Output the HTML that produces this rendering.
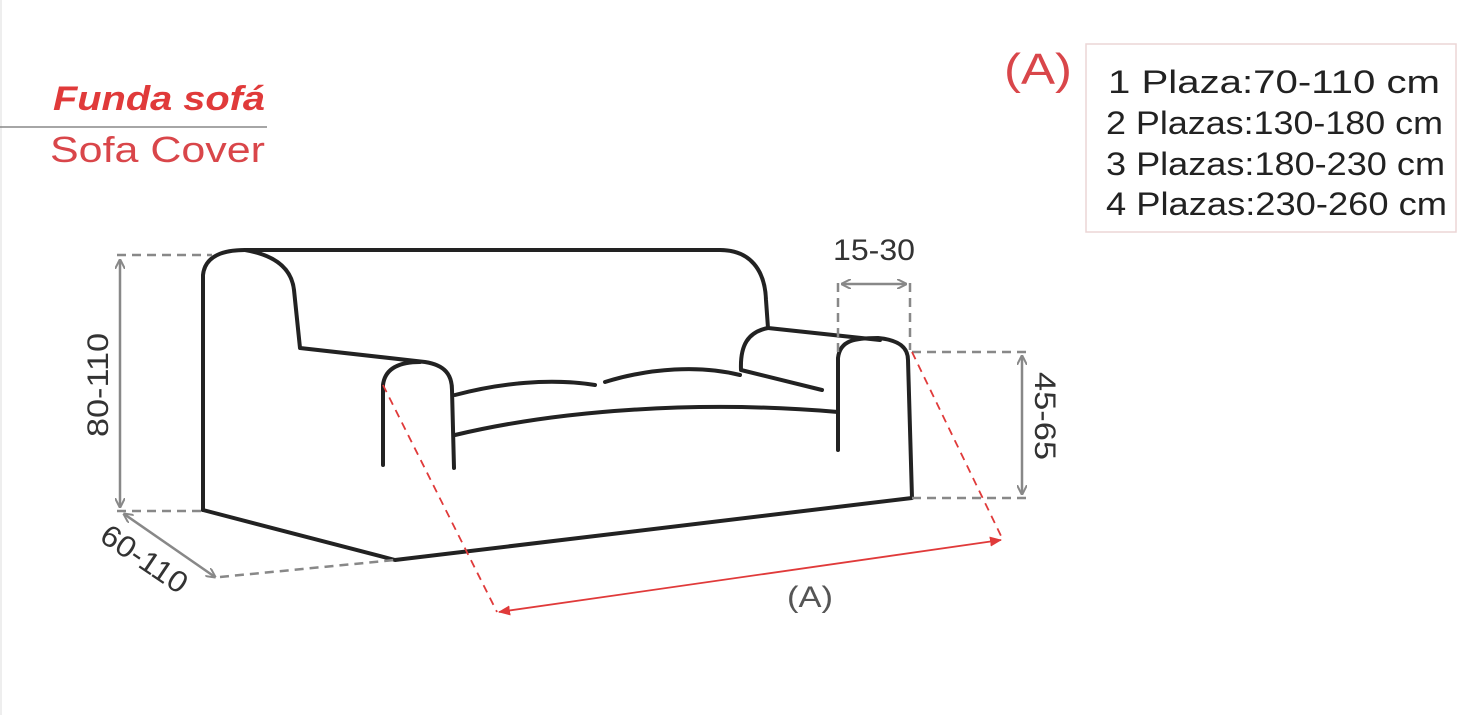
<!DOCTYPE html>
<html><head><meta charset="utf-8"><style>
html,body{margin:0;padding:0;background:#fff;}
svg{display:block;font-family:"Liberation Sans",sans-serif;}
</style></head><body>
<svg width="1475" height="715" viewBox="0 0 1475 715" xmlns="http://www.w3.org/2000/svg">
<defs>
<marker id="ag" markerWidth="10" markerHeight="10" refX="9" refY="5" orient="auto-start-reverse" markerUnits="userSpaceOnUse"><path d="M0,0 L10,5 L0,10" fill="none" stroke="#888" stroke-width="2"/></marker>
<marker id="ar" markerWidth="12" markerHeight="10" refX="11" refY="5" orient="auto-start-reverse" markerUnits="userSpaceOnUse"><path d="M0,0 L12,5 L0,10 z" fill="#e03a3a"/></marker>
</defs>
<line x1="1" y1="0" x2="1" y2="715" stroke="#ddd" stroke-width="1"/>
<text x="53" y="110" textLength="212" lengthAdjust="spacingAndGlyphs" font-size="34" font-style="italic" font-weight="bold" fill="#e03a3a">Funda sofá</text>
<line x1="0" y1="127" x2="267" y2="127" stroke="#888" stroke-width="1.5"/>
<text x="50" y="162" textLength="215" lengthAdjust="spacingAndGlyphs" font-size="36" fill="#d9464a">Sofa Cover</text>

<text x="1004" y="84" textLength="68" lengthAdjust="spacingAndGlyphs" font-size="44" fill="#d9464a">(A)</text>
<rect x="1086" y="44" width="370" height="188" fill="none" stroke="#ecd6d6" stroke-width="1.5"/>
<g font-size="32" fill="#222" lengthAdjust="spacingAndGlyphs">
<text x="1108" y="93" textLength="332" lengthAdjust="spacingAndGlyphs">1 Plaza:70-110 cm</text>
<text x="1106" y="134" textLength="337" lengthAdjust="spacingAndGlyphs">2 Plazas:130-180 cm</text>
<text x="1106" y="175" textLength="339" lengthAdjust="spacingAndGlyphs">3 Plazas:180-230 cm</text>
<text x="1106" y="215" textLength="341" lengthAdjust="spacingAndGlyphs">4 Plazas:230-260 cm</text>
</g>

<g fill="none" stroke="#222" stroke-width="4" stroke-linejoin="round" stroke-linecap="round">
<path d="M203,510 L203,275 C205,255 225,250 245,250 L720,250 C750,250 765,270 766,300 L768,328 L880,340"/>
<path d="M245,250 C280,256 292,272 294,290 L300,348 L425,362 C445,365 452,375 452,390 L454,468"/>
<path d="M383,465 L383,385 C385,368 400,362 420,362"/>
<path d="M768,328 C748,332 740,345 741,370 L822,390"/>
<path d="M838,450 L838,358 C840,340 855,338 878,338 C900,340 908,348 908,360 L912,498 L395,560 L203,510"/>
<path d="M455,395 C500,383 550,378 595,385"/>
<path d="M605,382 C650,368 700,365 740,375"/>
<path d="M455,435 C560,410 700,400 838,412"/>
</g>

<g stroke="#888" stroke-width="2.5" fill="none">
<line x1="117" y1="255" x2="212" y2="255" stroke-dasharray="9,6"/>
<line x1="117" y1="511" x2="203" y2="511" stroke-dasharray="9,6"/>
<line x1="120" y1="260" x2="120" y2="507" marker-start="url(#ag)" marker-end="url(#ag)"/>
<line x1="220" y1="577" x2="395" y2="560" stroke-dasharray="9,6"/>
<line x1="124" y1="514" x2="215" y2="577" marker-start="url(#ag)" marker-end="url(#ag)"/>
<line x1="838" y1="283" x2="838" y2="355" stroke-dasharray="9,6"/>
<line x1="910" y1="283" x2="910" y2="350" stroke-dasharray="9,6"/>
<line x1="842" y1="284" x2="906" y2="284" marker-start="url(#ag)" marker-end="url(#ag)"/>
<line x1="912" y1="352" x2="1026" y2="352" stroke-dasharray="9,6"/>
<line x1="912" y1="498" x2="1026" y2="498" stroke-dasharray="9,6"/>
<line x1="1022" y1="356" x2="1022" y2="494" marker-start="url(#ag)" marker-end="url(#ag)"/>
</g>
<g stroke="#e03a3a" stroke-width="1.8" fill="none">
<line x1="383" y1="385" x2="497" y2="612" stroke-dasharray="8,6"/>
<line x1="912" y1="352" x2="1003" y2="540" stroke-dasharray="8,6"/>
<line x1="499" y1="612" x2="1001" y2="540" marker-start="url(#ar)" marker-end="url(#ar)"/>
</g>
<g font-size="30" fill="#333">
<text x="833" y="260" textLength="82" lengthAdjust="spacingAndGlyphs">15-30</text>
<text transform="translate(108,437) rotate(-90)" textLength="104" lengthAdjust="spacingAndGlyphs">80-110</text>
<text transform="translate(1035,372) rotate(90)" textLength="88" lengthAdjust="spacingAndGlyphs">45-65</text>
<text transform="translate(98,540) rotate(34)" textLength="98" lengthAdjust="spacingAndGlyphs">60-110</text>
<text x="787" y="607" textLength="46" lengthAdjust="spacingAndGlyphs" fill="#555">(A)</text>
</g>
</svg>
</body></html>
